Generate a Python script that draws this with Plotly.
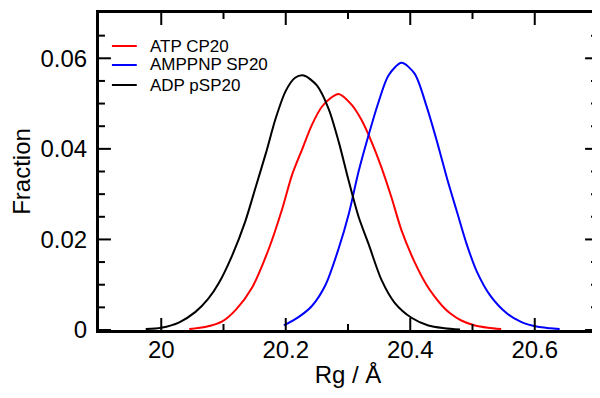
import plotly.graph_objects as go

# ATP CP20 (red)
atp_x = [20.045, 20.072, 20.098, 20.120, 20.146, 20.173, 20.194, 20.210, 20.226, 20.242, 20.258,
         20.272, 20.285, 20.306, 20.322, 20.338, 20.354, 20.370, 20.386, 20.407, 20.426, 20.438,
         20.455, 20.464, 20.482, 20.504, 20.525, 20.546]
atp_y = [0.0002, 0.0007, 0.0019, 0.0045, 0.0094, 0.0180, 0.0266, 0.0342, 0.0398, 0.0453, 0.0493,
         0.0512, 0.0521, 0.0497, 0.0463, 0.0415, 0.0358, 0.0292, 0.0220, 0.0150, 0.0100, 0.0076,
         0.0048, 0.0037, 0.0021, 0.0010, 0.0005, 0.0002]

# AMPPNP SP20 (blue)
amp_x = [20.197, 20.221, 20.242, 20.264, 20.285, 20.301, 20.317, 20.333, 20.349, 20.365, 20.386,
         20.407, 20.426, 20.443, 20.459, 20.475, 20.491, 20.507, 20.528, 20.555, 20.578, 20.605,
         20.625, 20.640]
amp_y = [0.0010, 0.0029, 0.0053, 0.0100, 0.0180, 0.0255, 0.0350, 0.0430, 0.0503, 0.0562, 0.0590,
         0.0566, 0.0495, 0.0416, 0.0335, 0.0261, 0.0188, 0.0129, 0.0077, 0.0037, 0.0018, 0.0007,
         0.0004, 0.0002]

# ADP pSP20 (black)
adp_x = [19.975, 20.000, 20.029, 20.055, 20.075, 20.093, 20.114, 20.135, 20.152, 20.168, 20.184,
         20.200, 20.215, 20.229, 20.250, 20.269, 20.285, 20.301, 20.317, 20.333, 20.354, 20.375,
         20.402, 20.429, 20.455, 20.480]
adp_y = [0.0002, 0.0005, 0.0017, 0.0040, 0.0068, 0.0105, 0.0165, 0.0240, 0.0317, 0.0390, 0.0468,
         0.0528, 0.0557, 0.0562, 0.0540, 0.0488, 0.0416, 0.0330, 0.0250, 0.0190, 0.0110, 0.0060,
         0.0027, 0.0010, 0.0004, 0.0001]

names = ["ATP CP20", "AMPPNP SP20", "ADP pSP20"]
colors = ["#ff0000", "#0000ff", "#000000"]
xs_all = [atp_x, amp_x, adp_x]
ys_all = [atp_y, amp_y, adp_y]

x_ticks = [20, 20.2, 20.4, 20.6]
x_labels = ["20", "20.2", "20.4", "20.6"]
x_minor = [20.1, 20.3, 20.5, 20.7]
y_ticks = [0, 0.02, 0.04, 0.06]
y_labels = ["0", "0.02", "0.04", "0.06"]
y_minor = [0.005, 0.01, 0.015, 0.025, 0.03, 0.035, 0.045, 0.05, 0.055, 0.065]

X_RANGE = [19.9, 20.7]
Y_RANGE = [0, 0.07]

FONT = "Liberation Sans, Arial, Helvetica, sans-serif"

# The page body has an 8px margin; size the figure so that it fills the 600x398 window.
OFF = 8
W, H = 600 - OFF, 398 - OFF
ML, MT, MB, MR = 99 - OFF, 13 - OFF, 68, 0
PW, PH = W - ML - MR, H - MT - MB

fig = go.Figure()
for name, xs, ys, col in zip(names, xs_all, ys_all, colors):
    fig.add_trace(go.Scatter(x=xs, y=ys, mode="lines", name=name, showlegend=False,
                             line=dict(color=col, width=2, shape="spline", smoothing=0.8)))

fig.update_layout(
    xaxis=dict(range=X_RANGE, tickmode="array", tickvals=x_ticks, ticktext=x_labels,
               showline=True, linecolor="black", linewidth=3, mirror=True, ticks="",
               showgrid=False, zeroline=False,
               tickfont=dict(family=FONT, size=24, color="black"), ticklabelstandoff=-4,
               title=dict(text="Rg / Å", font=dict(family=FONT, size=24, color="black"), standoff=5)),
    yaxis=dict(range=Y_RANGE, tickmode="array", tickvals=y_ticks, ticktext=y_labels,
               showline=True, linecolor="black", linewidth=3, mirror=True, ticks="",
               showgrid=False, zeroline=False,
               tickfont=dict(family=FONT, size=24, color="black"), ticklabelstandoff=4,
               title=dict(text="Fraction", font=dict(family=FONT, size=24, color="black"), standoff=6)),
)

# Inside tick marks on all four sides (major 12 px, minor 6 px), placed at the axis values
MAJ, MIN = 12, 6
TICK_LINE = dict(color="black", width=2)
shapes = []
for vals, ln in ((x_ticks, MAJ), (x_minor, MIN)):
    h = ln / PH
    for v in vals:
        shapes.append(dict(type="line", xref="x", yref="paper", x0=v, x1=v, y0=0, y1=h,
                           line=TICK_LINE, layer="above"))
        shapes.append(dict(type="line", xref="x", yref="paper", x0=v, x1=v, y0=1 - h, y1=1,
                           line=TICK_LINE, layer="above"))
for vals, ln in ((y_ticks, MAJ), (y_minor, MIN)):
    w = ln / PW
    for v in vals:
        shapes.append(dict(type="line", xref="paper", yref="y", y0=v, y1=v, x0=0, x1=w,
                           line=TICK_LINE, layer="above"))
        shapes.append(dict(type="line", xref="paper", yref="y", y0=v, y1=v, x0=1 - w, x1=1,
                           line=TICK_LINE, layer="above"))

# Hand-drawn legend (short line samples, tight row spacing as in the reference)
leg_line_x0, leg_line_x1, leg_text_x = 112 - 99, 137 - 99, 148 - 99   # px from plot left
leg_rows = [46, 65, 85]                                                   # px from page top
annots = []
for name, col, row in zip(names, colors, leg_rows):
    yp = 1 - (row - 13) / PH
    shapes.append(dict(type="line", xref="paper", yref="paper",
                       x0=leg_line_x0 / PW, x1=leg_line_x1 / PW, y0=yp, y1=yp,
                       line=dict(color=col, width=2)))
    annots.append(dict(xref="paper", yref="paper", x=leg_text_x / PW, y=yp,
                       xanchor="left", yanchor="middle", text=name, showarrow=False,
                       font=dict(family=FONT, size=17, color="black")))

fig.update_layout(
    width=W, height=H,
    margin=dict(l=ML, r=MR, t=MT, b=MB, pad=0),
    paper_bgcolor="white", plot_bgcolor="white",
    showlegend=False, shapes=shapes, annotations=annots,
)

fig.write_html("out.html")
